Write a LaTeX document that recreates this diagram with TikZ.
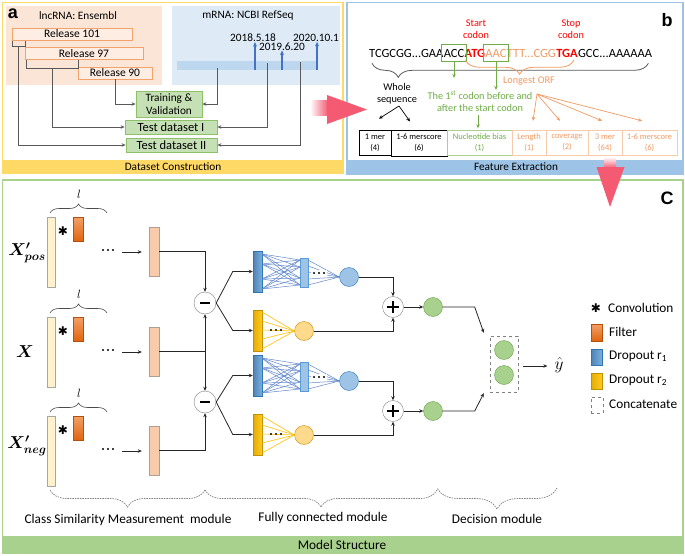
\documentclass[tikz,border=0pt]{standalone}
\usepackage{fontspec}
\setmainfont{Carlito}
\newfontfamily\arialfont{Liberation Sans}
\newfontfamily\djv{DejaVu Sans}
\usetikzlibrary{arrows.meta,calc,fit,decorations.pathreplacing}
\definecolor{yel}{HTML}{FFD966}
\definecolor{salm}{HTML}{FBE5D6}
\definecolor{lblue}{HTML}{DEEBF7}
\definecolor{relb}{HTML}{F4A26B}
\definecolor{relf}{HTML}{FDEDE3}
\definecolor{gfill}{HTML}{C5E0B4}
\definecolor{gdraw}{HTML}{8CC168}
\definecolor{pblue}{HTML}{9DC3E6}
\definecolor{pgreen}{HTML}{A9D18E}
\definecolor{pinkc}{HTML}{F45B72}
\definecolor{tline}{HTML}{BDD7EE}
\definecolor{darrow}{HTML}{4472C4}
\definecolor{graylin}{HTML}{595959}
\definecolor{redc}{HTML}{FF0000}
\definecolor{orc}{HTML}{F19B63}
\definecolor{orline}{HTML}{F8CBAD}
\definecolor{grc}{HTML}{70AD47}
\definecolor{inbarc}{HTML}{FFF2CC}
\definecolor{filtc}{HTML}{ED7D31}
\definecolor{filtl}{HTML}{F4A068}
\definecolor{filtd}{HTML}{E0640F}
\definecolor{outbarc}{HTML}{F8CBAD}
\definecolor{bbarc}{HTML}{5B9BD5}
\definecolor{bbard}{HTML}{2E75B6}
\definecolor{ybarc}{HTML}{FFC000}
\definecolor{ybard}{HTML}{BF9000}
\definecolor{ycircc}{HTML}{FFD98C}
\definecolor{gcircd}{HTML}{6A9F4A}
\definecolor{dotg}{HTML}{7F7F7F}
\begin{document}
\begin{tikzpicture}[x=1pt,y=-1pt,
  t11/.style={inner sep=0, font=\fontsize{11.3}{13.5}\selectfont},
  t10/.style={inner sep=0, font=\fontsize{10.3}{12}\selectfont},
  t13/.style={inner sep=0, font=\fontsize{13.3}{15}\selectfont},
  bigl/.style={inner sep=0, font=\arialfont\bfseries\fontsize{18}{18}\selectfont},
  rel/.style={draw=relb, fill=relf, line width=0.8pt, inner sep=0, minimum height=12, font=\fontsize{11.5}{13}\selectfont},
  gbox/.style={draw=gdraw, fill=gfill, line width=0.8pt, inner sep=0, align=center, font=\fontsize{11.3}{13}\selectfont},
  tbox/.style={gbox, font=\fontsize{12.5}{14}\selectfont, minimum height=14},
  garr/.style={graylin, line width=0.8pt, -{Stealth[length=4pt,width=3.5pt]}},
  gl/.style={graylin, line width=0.8pt},
  barr/.style={darrow, line width=1.1pt, -{Stealth[length=4.5pt,width=4pt]}},
  seq/.style={inner sep=0, anchor=base west, font=\fontsize{12.5}{14}\selectfont},
  seqb/.style={inner sep=0, anchor=base west, font=\bfseries\fontsize{12.5}{14}\selectfont},
  cell/.style={draw, inner sep=0, minimum height=25, align=center, font=\fontsize{8.5}{11}\selectfont},
  karr/.style={black, line width=0.7pt, -{Stealth[length=4pt,width=3.5pt]}},
  oarr/.style={orc, line width=0.7pt, -{Stealth[length=4pt,width=3.5pt]}},
  grarr/.style={grc, line width=0.8pt, -{Stealth[length=4pt,width=3.5pt]}},
  inbar/.style={draw=gray!70, fill=inbarc, minimum width=8, minimum height=70, inner sep=0},
  filt/.style={draw=filtd!80!black, top color=filtl, bottom color=filtd, minimum width=10, minimum height=24, inner sep=0},
  outbar/.style={draw=gray!60!outbarc, fill=outbarc, minimum width=10, minimum height=49, inner sep=0},
  bbar/.style={draw=bbard, left color=bbarc!85!black, right color=bbarc!80!white, minimum width=9, minimum height=41, inner sep=0},
  bbartwo/.style={draw=bbarc, fill=pblue, minimum width=8, minimum height=29, inner sep=0},
  ybar/.style={draw=ybard, left color=ybarc!90!black, right color=ybarc!85!white, minimum width=9, minimum height=41, inner sep=0},
  bcirc/.style={circle, draw=bbard, fill=pblue, minimum size=19, inner sep=0},
  ycirc/.style={circle, draw=ybard, fill=ycircc, minimum size=19, inner sep=0},
  gcirc/.style={circle, draw=gcircd, fill=pgreen, minimum size=19, inner sep=0},
  opc/.style={circle, draw=gray, fill=white, minimum size=22, inner sep=0},
  carr/.style={black!85, line width=0.8pt, -{Stealth[length=4pt,width=3.5pt]}},
  mlbl/.style={inner sep=0, font=\fontsize{18}{18}\selectfont\boldmath},
  yhl/.style={inner sep=0, font=\fontsize{18}{18}\selectfont},
  dbr/.style={dotg, line width=0.7pt, dash pattern=on 1.5pt off 1pt, decorate},
  nnet/.style={darrow!85, line width=0.5pt},
  ynet/.style={ybarc, line width=0.6pt},
  starl/.style={inner sep=0, font=\djv\fontsize{12}{12}\selectfont}
]
\useasboundingbox (0,0) rectangle (685,555);
\fill[white] (0,0) rectangle (685,555);

% ================= Panel a =================
\fill[salm] (6,6) rectangle (162,85);
\fill[lblue] (172,6) rectangle (340,85);
\fill[yel] (2.5,160) rectangle (343,173);
\draw[yel,line width=1.5pt] (2.5,2.5) rectangle (343,173);
\node[t11] (dc) at (173,167) {Dataset Construction};
\node[bigl] (la) at (13,14) {a};
\node[t11] (lnc) at (78,16) {lncRNA: Ensembl};
\node[t11] (mrna) at (248,16) {mRNA: NCBI RefSeq};
\node[rel, minimum width=120] (r101) at (72,34) {Release 101};
\node[rel, minimum width=118] (r97) at (84,53.5) {Release 97};
\node[rel, minimum width=74] (r90) at (115,73) {Release 90};
\node[gbox, minimum width=66, minimum height=26] (tv) at (169,104) {Training \&\\Validation};
\node[tbox, minimum width=92] (t1) at (171,127) {Test dataset I};
\node[tbox, minimum width=91] (t2) at (171.5,145) {Test dataset II};
% timeline
\node[fill=tline, minimum width=140, minimum height=9, inner sep=0] (bar) at (247,65.5) {};
\coordinate (a1) at (255,70); \coordinate (a2) at (282,70); \coordinate (a3) at (317,70);
\node[t11] (d1) at (253,38) {2018.5.18};
\node[t11] (d2) at (282,46.5) {2019.6.20};
\node[t11] (d3) at (316,38) {2020.10.1};
\draw[barr] (a1) -- (a1 |- d1.south);
\draw[barr] (a2) -- (a2 |- d2.south);
\draw[barr] (a3) -- (a3 |- d3.south);
% gray connectors
\coordinate (g1s) at (217,68); \coordinate (g2s) at (267,63); \coordinate (g3s) at (300,62);
\draw[garr] (g1s) |- (tv.east);
\draw[garr] (g2s) |- (t1.east);
\draw[garr] (g3s) |- (t2.east);
\draw[garr] (r90.south) |- (tv.west);
\draw[gl] (12,41) -- (12,46) -- (25,46) -- (25,41);
\coordinate (br1) at (18,46);
\draw[garr] (br1) |- (t2.west);
\draw[gl] (26,60) -- (26,68) -- (78,68) -- (78,60);
\coordinate (br2) at (52,68);
\draw[garr] (br2) |- (t1.west);

% ================= Panel b =================
\fill[pblue] (347,160) rectangle (683,174);
\draw[pblue, line width=1.5pt] (347,2.5) rectangle (683,174);
\node[t11] (fe) at (516,167) {Feature Extraction};
\node[bigl] (lb) at (667,20) {b};
\node[seq] (s1) at (369,57) {TCGCGG...GAA};
\node[seq] (s2) at (s1.base east) {ACC};
\node[seqb, text=redc] (s3) at (s2.base east) {ATG};
\node[seq, text=orc] (s4) at (s3.base east) {AAC};
\node[seq, text=orc] (s5) at (s4.base east) {TTT...CGG};
\node[seqb, text=redc] (s6) at (s5.base east) {TGA};
\node[seq] (s7) at (s6.base east) {GCC...AAAAAA};
\node[draw=grc, line width=1.2pt, inner xsep=2pt, inner ysep=4pt, fit=(s2)] (gb1) {};
\node[draw=grc, line width=1.2pt, inner xsep=2pt, inner ysep=4pt, fit=(s4)] (gb2) {};
\node[t10, text=redc, align=center] (stc) at (476,29) {Start\\codon};
\node[t10, text=redc, align=center] (spc) at (571,29.5) {Stop\\codon};
\draw[gl, decorate, decoration={brace, amplitude=14pt, aspect=0.905}] ($(s7.south east)+(-4,6)$) -- ($(s1.south west)+(3,6)$);
\draw[orc, line width=0.8pt, decorate, decoration={brace, amplitude=14pt}] ($(s6.south east)+(-4,3)$) -- ($(s3.south west)+(1,3)$);
\node[t10, text=orc] (lorf) at (529,81) {Longest ORF};
\node[t10, align=center] (ws) at (397,94) {Whole\\sequence};
\node[t10, text=grc, align=center] (fc) at (480,101) {The 1\textsuperscript{st} codon before and\\after the start codon};
\draw[grarr] (gb1.south) -- ++(0,16);
\draw[grarr] (gb2.south) -- ++(0,28);
% cells
\node[cell, draw=black, line width=0.6pt, minimum width=32] (c1) at (375,142.5) {1 mer\\(4)};
\node[cell, draw=black, line width=1pt, minimum width=56, minimum height=26] (c2) at (419,143) {1-6 merscore\\(6)};
\node[cell, draw=pgreen, text=grc, minimum width=65] (c3) at (479.5,142.5) {Nucleotide bias\\(1)};
\node[cell, draw=orline, text=orc, minimum width=34] (c4) at (529,142.5) {Length\\(1)};
\node[cell, draw=orline, text=orc, minimum width=42] (c5) at (567,142.5) {coverage\\(2)};
\node[cell, draw=orline, text=orc, minimum width=34] (c6) at (605,142.5) {3 mer\\(64)};
\node[cell, draw=orline, text=orc, minimum width=55] (c7) at (649.5,142.5) {1-6 merscore\\(6)};
\draw[grarr] ($(fc.south)+(-2,4)$) -- ($(c3.north)+(-1.5,-1.5)$);
\coordinate (wsb) at (399,106);
\draw[karr] (wsb) -- ($(c1.north)+(4,-11)$);
\draw[karr] (wsb) -- ($(c2.north)+(-9,-8)$);
\coordinate (oo) at (537,94);
\draw[oarr] (oo) -- ($(c4.north)+(4,-9)$);
\draw[oarr] (oo) -- ($(c5.north)+(-7,-9)$);
\draw[oarr] (oo) -- ($(c6.north)+(-3,-9)$);
\draw[oarr] (oo) -- ($(c7.north)+(-7.5,-9)$);

% ================= Panel c =================
\fill[pgreen] (2.5,536) rectangle (683,553);
\draw[pgreen, line width=1.5pt] (2.5,180) rectangle (683,553);
\node[t13] (ms) at (342,545) {Model Structure};
\node[bigl] (lc) at (667,198) {C};

% inputs
\foreach \k/\y in {1/252,2/352,3/451} {
  \node[inbar] (in\k) at (51,\y) {};
  \node[filt] (f\k) at (78,\y-23) {};
  \node[starl] (st\k) at (63,\y-21) {✱};
  \draw[black!70, line width=0.6pt, decorate, decoration={brace, amplitude=9pt}] (50,\y-39) -- (107,\y-39);
  \node[inner sep=0, font=\fontsize{13}{13}\selectfont] (ll\k) at (79,\y-58) {$l$};
  \coordinate (dd\k) at (108,\y-2);
  \foreach \d in {-5,0,5} { \fill ($(dd\k)+(\d,0)$) circle (1.2); }
  \node[outbar] (o\k) at (154,\y-0.5) {};
  \coordinate (ar\k) at (122,\y);
  \draw[carr] (ar\k) -- ($(o\k.west)+(-7,0.5)$);
}
\node[mlbl] (x1) at (27,253) {$X'_{pos}$};
\node[mlbl] (x2) at (25,352) {$X$};
\node[mlbl] (x3) at (27,446) {$X'_{neg}$};

\node[opc] (m1) at (205,303) {};
\node[opc] (m2) at (205,402) {};
\draw[line width=2.2pt] ($(m1.center)+(-5,0)$) -- ($(m1.center)+(5,0)$);
\draw[line width=2.2pt] ($(m2.center)+(-5,0)$) -- ($(m2.center)+(5,0)$);
\draw[carr] (o1.east) -| (m1.north);
\draw[black!85, line width=1.4pt] (o2.east) -- (o2.east -| m1.south) coordinate (j2);
\draw[carr] (j2) -- (m1.south);
\draw[carr] (j2) -- (m2.north);
\draw[carr] (o3.east) -| (m2.south);

% fully connected groups
\foreach \k/\o in {1/0,2/104} {
  \node[bbar] (b\k) at (257.5,271.5+\o) {};
  \node[bbartwo] (bb\k) at (304,272.5+\o) {};
  \node[bcirc] (bc\k) at (349,277+\o) {};
  \node[ybar] (y\k) at (257.5,330.5+\o) {};
  \node[ycirc] (yc\k) at (304,331+\o) {};
  \node[opc, minimum size=21] (p\k) at (393,307+\o) {};
  \node[gcirc] (g\k) at (433,307+\o) {};
  \foreach \ya in {254,264,279,289} {
    \foreach \yb in {260,267,278,285} {
      \draw[nnet] (262,\ya+\o) -- (300,\yb+\o);
    }
  }
  \foreach \yb in {260,266,272,279,285} {
    \draw[nnet] (308,\yb+\o) -- (bc\k.west);
  }
  \foreach \ya in {312,321,330,339,349} {
    \draw[ynet] (262,\ya+\o) -- (yc\k.west);
  }
  \coordinate (bd\k) at (319,273+\o);
  \fill[white] ($(bd\k)+(-8,-3)$) rectangle ($(bd\k)+(8,3)$);
  \foreach \d in {-5,0,5} { \fill ($(bd\k)+(\d,0)$) circle (1.2); }
  \coordinate (yd\k) at (276,330+\o);
  \foreach \d in {-5,0,5} { \fill ($(yd\k)+(\d,0)$) circle (1.2); }
  \draw[line width=1.8pt] ($(p\k.center)+(-6,0)$) -- ($(p\k.center)+(6,0)$);
  \draw[line width=1.8pt] ($(p\k.center)+(0,-6)$) -- ($(p\k.center)+(0,6)$);
  \draw[carr] (bc\k.east) -| (p\k.north);
  \draw[carr] (yc\k.east) -| (p\k.south);
  \draw[carr] (p\k.east) -- (g\k.west);
}
\draw[carr] (m1.east) -- ($(b1.west)+(-20,0)$) -- (b1.west);
\draw[carr] (m1.east) -- ($(y1.west)+(-20,0)$) -- (y1.west);
\draw[carr] (m2.east) -- ($(b2.west)+(-20,0)$) -- (b2.west);
\draw[carr] (m2.east) -- ($(y2.west)+(-20,0)$) -- (y2.west);

% decision
\node[draw=gray, dashed, minimum width=28, minimum height=56, inner sep=0] (cc) at (504,364) {};
\node[gcirc] (cg1) at (504,350) {};
\node[gcirc] (cg2) at (504,375) {};
\draw[carr] (g1.east) -- ++(32,0) -- ($(cc.north west)+(-6,-3)$);
\draw[carr] (g2.east) -- ++(32,0) -- ($(cc.south west)+(-6,1)$);
\node[yhl] (yh) at (559,365) {$\hat{y}$};
\draw[carr] ($(cc.east)+(5,2)$) -- ($(yh.west)+(-7,1)$);

% legend
\node[starl] (lgs) at (596,308) {✱};
\node[t13, anchor=west] (lg1) at (608,308) {Convolution};
\node[filt, minimum width=11, minimum height=17] (lgf) at (596.5,332.5) {};
\node[t13, anchor=west] (lg2) at (609,332) {Filter};
\node[bbar, minimum width=11, minimum height=16] (lgb) at (596.5,357) {};
\node[t13, anchor=west] (lg3) at (609,356) {Dropout r\textsubscript{1}};
\node[ybar, minimum width=11, minimum height=16] (lgy) at (596.5,381) {};
\node[t13, anchor=west] (lg4) at (609,380) {Dropout r\textsubscript{2}};
\node[draw=gray, dashed, minimum width=12, minimum height=16, inner sep=0] (lgd) at (597,405) {};
\node[t13, anchor=west] (lg5) at (609,404) {Concatenate};

% bottom braces
\draw[dbr, decoration={brace, amplitude=17pt}] (205,490) -- (50,490);
\draw[dbr, decoration={brace, amplitude=17pt}] (437,490) -- (205,490);
\draw[dbr, decoration={brace, amplitude=21pt}] (557,488) -- (437,488);
\node[t13] (lm1) at (128,520) {Class Similarity Measurement~ module};
\node[t13] (lm2) at (323,518) {Fully connected module};
\node[t13] (lm3) at (497,519) {Decision module};

% pink arrows
\shade[left color=white, right color=pinkc] (310,100) rectangle (328,115);
\fill[pinkc] (327,95) -- (367,109.5) -- (327,124) -- cycle;
\shade[top color=white, bottom color=pinkc] (604,157) rectangle (616,168);
\fill[pinkc] (596.5,167) -- (624.5,167) -- (610,207) -- cycle;
\end{tikzpicture}
\end{document}
